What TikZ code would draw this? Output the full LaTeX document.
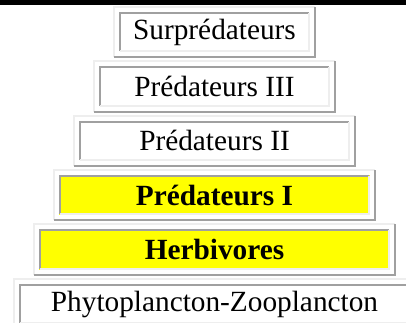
\documentclass[tikz,border=0pt]{standalone}
\usepackage{fontspec}
\setmainfont{Liberation Serif}
\usetikzlibrary{positioning}
\definecolor{bevelgray}{HTML}{A0A0A0}
\definecolor{bevellight}{HTML}{EEEEEE}
\definecolor{cellyellow}{HTML}{FFFF00}
\tikzset{level cell/.style={rectangle,fill=white,minimum height=40pt,inner sep=0pt,font=\fontsize{29.3}{34}\selectfont},}
\tikzset{key cell/.style={level cell,fill=cellyellow,font=\fontsize{29.3}{34}\selectfont\bfseries},}
\tikzset{bevel dark/.style={line width=2pt,bevelgray},}
\tikzset{bevel light/.style={line width=2pt,bevellight},}
% table-like bevel round a cell: sunken inside, raised outside
\newcommand{\cellbevel}[1]{%
  \draw[bevel dark] ([shift={(1,1)}]#1.south west) -- ([shift={(1,-1)}]#1.north west) -- ([shift={(-1,-1)}]#1.north east);
  \draw[bevel light] ([shift={(-1,-1)}]#1.north east) -- ([shift={(-1,1)}]#1.south east) -- ([shift={(1,1)}]#1.south west);
  \draw[bevel light] ([shift={(-5,-5)}]#1.south west) -- ([shift={(-5,5)}]#1.north west) -- ([shift={(5,5)}]#1.north east);
  \draw[bevel dark] ([shift={(5,5)}]#1.north east) -- ([shift={(5,-5)}]#1.south east) -- ([shift={(-5,-5)}]#1.south west);
}

\begin{document}
\begin{tikzpicture}[x=1pt,y=1pt,node distance=14pt]
    \clip (0,0) rectangle (406,-322);
    \fill[black] (0,0) rectangle (406,-5);

    \node[level cell,minimum width=191pt] (top) at (214.5,-32) {Surprédateurs};
    \node[level cell,minimum width=231pt] (pred3) [below = of top] {Prédateurs III};
    \node[level cell,minimum width=271pt] (pred2) [below = of pred3] {Prédateurs II};
    \node[key cell,minimum width=311pt] (pred1) [below = of pred2] {Prédateurs I};
    \node[key cell,minimum width=351pt] (herb) [below = of pred1] {Herbivores};
    \node[level cell,minimum width=391pt] (plancton) [below = of herb] {Phytoplancton-Zooplancton};

    \cellbevel{top}
    \cellbevel{pred3}
    \cellbevel{pred2}
    \cellbevel{pred1}
    \cellbevel{herb}
    \cellbevel{plancton}
\end{tikzpicture}
\end{document}
